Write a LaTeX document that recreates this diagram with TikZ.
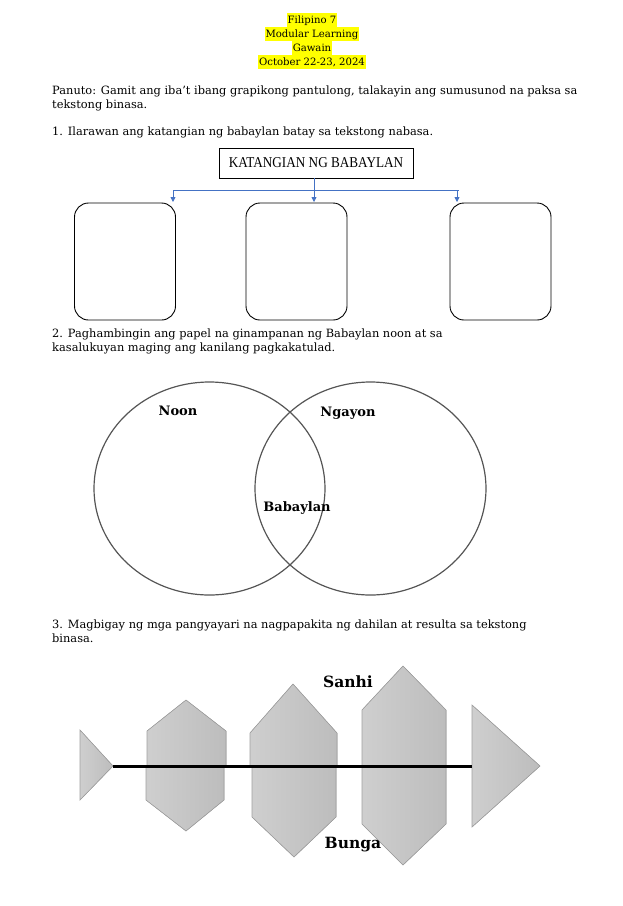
\documentclass[tikz,border=0pt]{standalone}
\usepackage{fontspec}
\setmainfont{DejaVu Serif}
\newfontfamily\titlefont[FakeStretch=0.88]{Liberation Serif}
\usetikzlibrary{arrows.meta}
\definecolor{hl}{HTML}{FFFF00}
\definecolor{conblue}{HTML}{4472C4}
\definecolor{vennline}{HTML}{555555}
\definecolor{fishedge}{HTML}{A0A0A0}
\tikzset{
  hdr/.style={fill=hl, inner xsep=1pt, inner ysep=0pt, text height=10.5pt, text depth=3.5pt, anchor=base, font=\fontsize{10.1}{11}\selectfont},
  body/.style={anchor=base west, inner sep=0pt, font=\fontsize{11.4}{13}\selectfont},
  answerbox/.style={draw, line width=0.9pt, rounded corners=14pt, minimum width=101pt, minimum height=117pt, inner sep=0pt},
  conn/.style={draw=conblue, line width=0.8pt},
  connarrow/.style={conn, -{Triangle[length=5pt,width=5pt]}},
  venn/.style={draw=vennline, line width=1.2pt},
  vlabel/.style={font=\fontsize{13}{15}\selectfont\bfseries, inner sep=0pt},
  flabel/.style={font=\fontsize{15.5}{17}\selectfont\bfseries, inner sep=0pt},
  fishpart/.style={draw=fishedge, line width=0.6pt, left color=gray!38, right color=gray!52},
}
\begin{document}
\begin{tikzpicture}[x=1pt,y=-1pt]
\useasboundingbox (0,0) rectangle (623,906);
% header
\node[hdr] (h1) at (312,23.5) {Filipino 7};
\node[hdr] (h2) at (312,37.5) {Modular Learning};
\node[hdr] (h3) at (312,51.5) {Gawain};
\node[hdr] (h4) at (312,65.5) {October 22-23, 2024};
% instructions
\node[body] (p1) at (52,94.5) {Panuto: Gamit ang iba't ibang grapikong pantulong, talakayin ang sumusunod na paksa sa};
\node[body] (p2) at (52,108) {tekstong binasa.};
\node[body] (q1) at (52,135.5) {1. Ilarawan ang katangian ng babaylan batay sa tekstong nabasa.};
% part 1
\node[draw, line width=0.8pt, minimum width=194pt, minimum height=30pt, inner sep=0pt, font=\titlefont\fontsize{15}{16}\selectfont] (title) at (316,163) {KATANGIAN NG BABAYLAN};
\node[answerbox] (b1) at (125,261.5) {};
\node[answerbox] (b2) at (296.5,261.5) {};
\node[answerbox] (b3) at (500.5,261.5) {};
\coordinate (barL) at (173,190);
\coordinate (barR) at (459,190);
\coordinate (topL) at (173,202);
\coordinate (topR) at (457,202);
\coordinate (barR3) at (457,190);
\coordinate (topM) at (314,202);
\draw[conn] (barL) -- (barR);
\draw[connarrow] (title.south -| topM) -- (topM);
\draw[connarrow] (barL) -- (topL);
\draw[connarrow] (barR3) -- (topR);
% part 2
\node[body] (q2a) at (52,337.5) {2. Paghambingin ang papel na ginampanan ng Babaylan noon at sa};
\node[body] (q2b) at (52,351) {kasalukuyan maging ang kanilang pagkakatulad.};
\draw[venn] (209.5,488.5) ellipse [x radius=115.5, y radius=106.5];
\draw[venn] (370.5,488.5) ellipse [x radius=115.5, y radius=106.5];
\node[vlabel] (noon) at (178,411) {Noon};
\node[vlabel] (ngayon) at (348,413) {Ngayon};
\node[vlabel] (baby) at (297,508) {Babaylan};
% part 3
\node[body] (q3a) at (52,628.5) {3. Magbigay ng mga pangyayari na nagpapakita ng dahilan at resulta sa tekstong};
\node[body] (q3b) at (52,642) {binasa.};
\fill[fishpart] (80,730) -- (80,800) -- (113,766) -- cycle;
\fill[fishpart] (472,705) -- (472,827) -- (540,766) -- cycle;
\fill[fishpart] (147,766) -- (147,731) -- (186,700) -- (226,731) -- (226,766) -- cycle;
\fill[fishpart] (146,766) -- (146,800) -- (186,831) -- (224,800) -- (224,766) -- cycle;
\fill[fishpart] (250,766) -- (250,733) -- (293,684) -- (337,733) -- (337,766) -- cycle;
\fill[fishpart] (252,766) -- (252,817) -- (294,857) -- (336,817) -- (336,766) -- cycle;
\fill[fishpart] (362,766) -- (362,710) -- (403,666) -- (446,710) -- (446,766) -- cycle;
\fill[fishpart] (362,766) -- (362,824) -- (403,865) -- (446,824) -- (446,766) -- cycle;
\coordinate (spineL) at (113,766);
\coordinate (spineR) at (472,766);
\draw[line width=3pt] (spineL) -- (spineR);
\node[flabel] (sanhi) at (348,682) {Sanhi};
\node[flabel] (bunga) at (353,845) {Bunga};
\end{tikzpicture}
\end{document}
